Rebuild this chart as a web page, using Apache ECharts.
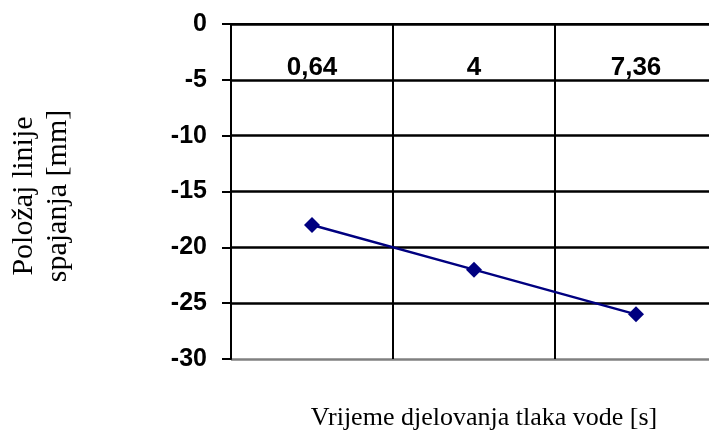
<!DOCTYPE html>
<html>
<head>
	<meta charset="UTF-8" />
	<script src="https://cdn.jsdelivr.net/npm/echarts@6/dist/echarts.min.js"></script>
	<style type="text/css">
		html, body {
			margin: 0;
			padding: 0;
			background-color: #ffffff;
			overflow: hidden;
		}

		#chart {
			width: 709px;
			height: 439px;
		}
	</style>
</head>
<body>
	<div id="chart"></div>

	<script>
		// 数据
		const categories = ['0,64', '4', '7,36'];
		const positions = [-18, -22, -26];
		const yTicks = [-30, -25, -20, -15, -10, -5, 0];

		const chart = echarts.init(document.getElementById('chart'), null, { renderer: 'canvas' });

		chart.setOption({
			animation: false,
			// 图表右边超出画面
			grid: { left: 231, top: 24, width: 486, height: 335, outerBoundsMode: 'none' },
			xAxis: {
				type: 'category',
				position: 'top',
				data: categories,
				boundaryGap: true,
				axisLine: { show: true, lineStyle: { color: '#000', width: 2 } },
				axisTick: { show: false },
				axisLabel: {
					inside: true,
					margin: 31,
					color: '#000',
					fontFamily: 'Liberation Sans',
					fontWeight: 'bold',
					fontSize: 26
				},
				splitLine: { show: true, lineStyle: { color: '#000', width: 2 } }
			},
			yAxis: {
				type: 'value',
				min: yTicks[0],
				max: yTicks[yTicks.length - 1],
				interval: 5,
				axisLine: { show: true, lineStyle: { color: '#000', width: 2 } },
				axisTick: { show: true, length: 9, lineStyle: { color: '#000', width: 2 } },
				axisLabel: {
					margin: 24,
					color: '#000',
					fontFamily: 'Liberation Sans',
					fontWeight: 'bold',
					fontSize: 25
				},
				splitLine: {
					show: true,
					lineStyle: {
						color: ['#808080', '#000', '#000', '#000', '#000', '#000', '#000'],
						width: 2.5
					}
				}
			},
			series: [{
				type: 'line',
				data: positions,
				symbol: 'diamond',
				symbolSize: 16,
				itemStyle: { color: '#000080' },
				lineStyle: { color: '#000080', width: 2.5 }
			}],
			graphic: [
				{
					type: 'text',
					x: 41,
					y: 196,
					rotation: Math.PI / 2,
					style: {
						text: 'Položaj linije\nspajanja [mm]',
						fontFamily: 'Liberation Serif',
						fontSize: 30,
						lineHeight: 34,
						fill: '#000',
						align: 'center',
						verticalAlign: 'middle'
					}
				},
				{
					type: 'text',
					x: 484,
					y: 418,
					style: {
						text: 'Vrijeme djelovanja tlaka vode [s]',
						fontFamily: 'Liberation Serif',
						fontSize: 26,
						fill: '#000',
						align: 'center',
						verticalAlign: 'middle'
					}
				}
			]
		});
	</script>
</body>
</html>
